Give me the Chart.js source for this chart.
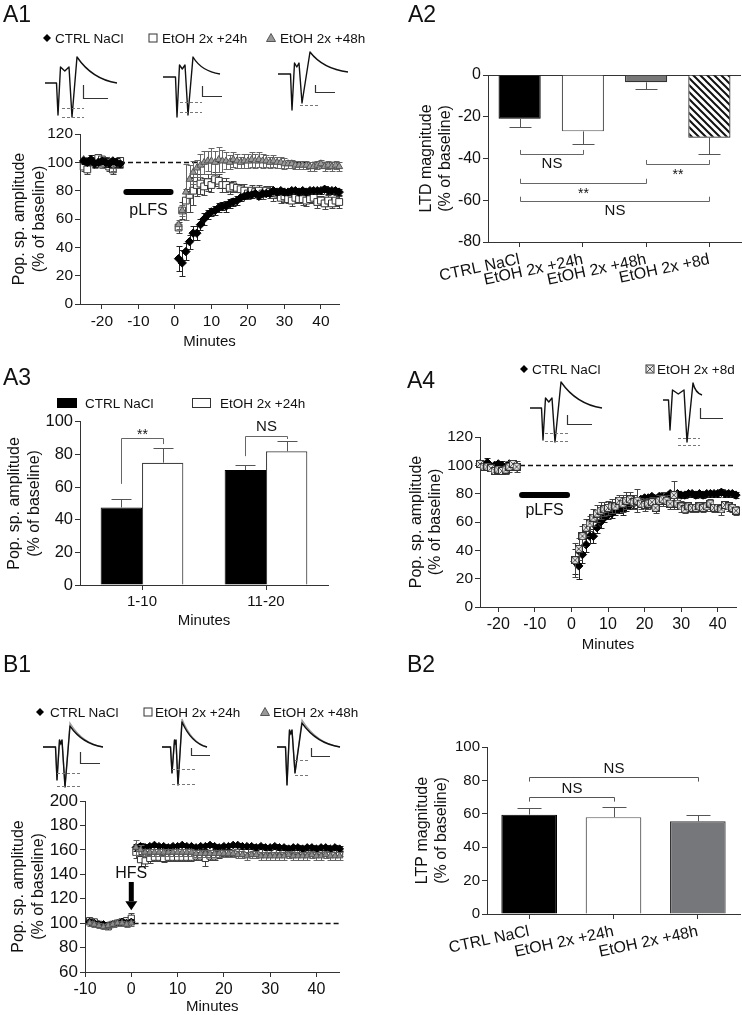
<!DOCTYPE html>
<html>
<head>
<meta charset="utf-8">
<title>LTD / LTP panels</title>
<script src="https://cdn.jsdelivr.net/npm/chart.js@4.4.1/dist/chart.umd.min.js"></script>
<style>
  html, body { margin: 0; padding: 0; background: #fff; }
  body { position: relative; width: 742px; height: 1015px; overflow: hidden; }
  canvas { position: absolute; }
  #deco { position: absolute; left: 0; top: 0; }
</style>
</head>
<body>
<canvas id="cA1" width="345" height="232" style="left:0;top:120px"></canvas>
<canvas id="cA2" width="372" height="240" style="left:370px;top:60px"></canvas>
<canvas id="cA3" width="345" height="225" style="left:0;top:410px"></canvas>
<canvas id="cA4" width="372" height="235" style="left:370px;top:420px"></canvas>
<canvas id="cB1" width="345" height="231" style="left:0;top:785px"></canvas>
<canvas id="cB2" width="372" height="270" style="left:370px;top:730px"></canvas>
<svg id="deco" width="742" height="1015"></svg>
<script>
// ---- data ----
const baseMin = [-25,-24,-23,-22,-21,-20,-19,-18,-17,-16,-15];
const postMin = [1,2,3,4,5,6,7,8,9,10,11,12,13,14,15,16,17,18,19,20,21,22,23,24,25,26,27,28,29,30,31,32,33,34,35,36,37,38,39,40,41,42,43,44,45];
const ltpBaseMin = [-9,-8,-7,-6,-5,-4,-3,-2,-1,0];
const lfsMinutes = baseMin.concat(postMin);
const hfsMinutes = ltpBaseMin.concat(postMin);

const ltdXTicks = [-20,-10,0,10,20,30,40];
const ltdYTicks = [0,20,40,60,80,100,120];
const ltpXTicks = [-10,0,10,20,30,40];
const ltpYTicks = [60,80,100,120,140,160,180,200];
const ltdMagTicks = [-80,-60,-40,-20,0];
const pctTicks = [0,20,40,60,80,100];

// A1 / A4 (pLFS)
const ctrlLtd = [101,100,102,99,100,101,100,99,101,100,99,
  32,29,37,44,50, 50,56,60,63,65, 66,68,69,69,71, 72,73,75,76,77, 77,78,76,78,78,
  78,80,79,80,79, 79,80,80,79,80, 79,80,80,80,80, 81,80,80,80,79];
const ctrlLtdErr = [2,2,3,2,2,2,3,2,2,3,2,
  9,9,6,5,5, 5,4,4,3,3, 3,3,3,4,3, 3,3,2,2,2, 2,2,2,2,2,
  2,2,2,2,2, 2,2,2,2,2, 2,2,2,2,2, 2,2,2,2,2];
const etoh24Ltd = [97,95,101,100,103,102,101,97,95,100,101,
  54,66,73,77,80, 84,85,83,86,84, 88,87,84,84,82, 83,82,81,80,78, 80,79,80,78,80,
  79,77,78,75,76, 74,73,75,74,74, 73,74,75,72,73, 71,73,71,73,72];
const etoh24LtdErr = [3,3,3,3,3,2,3,3,3,3,3,
  4,6,8,12,10, 8,7,6,6,5, 5,5,5,5,4, 4,3,4,5,4, 4,3,4,4,3,
  4,4,3,4,4, 3,4,4,3,4, 4,3,4,4,3, 4,4,3,4,4];
const etoh48Ltd = [102,100,101,99,100,98,100,101,97,98,98,
  56,66,79,88,93, 96,98,100,101,101, 100,102,101,101,100, 102,101,100,101,101, 102,101,102,101,101,
  100,101,100,100,99, 99,99,98,98,98, 98,97,97,98,99, 97,98,97,98,97];
const etoh48LtdErr = [2,2,2,3,2,2,2,2,3,2,2,
  3,4,20,10,8, 6,8,8,7,9, 8,9,8,6,5, 5,5,4,5,5, 5,5,5,5,4,
  4,4,4,4,4, 3,3,3,3,3, 3,3,3,3,3, 3,3,3,3,3];
const etoh8dLtd = [101,99,99,98,96,97,96,97,99,101,99,
  33,41,50,56,59, 63,66,68,69,70, 71,71,75,73,75, 76,74,75,73,72, 73,74,70,75,76,
  75,73,79,73,71, 69,71,70,70,71, 70,71,73,70,70, 69,72,71,70,68];
const etoh8dLtdErr = [2,2,2,2,2,2,2,3,4,3,4,
  12,8,7,6,5, 6,6,6,5,5, 5,5,4,6,6, 5,5,8,4,4, 4,4,4,4,5,
  4,4,10,4,4, 3,3,3,3,3, 3,3,3,3,3, 4,3,3,3,3];

// B1 (HFS)
const ctrlLtp = [101,100,99,99,98,99,100,101,100,101,
  162,163,162,163,164, 163,163,162,163,163, 164,163,163,162,163, 163,164,163,162,163, 163,164,164,163,163,
  163,162,163,162,162, 163,162,162,161,162, 162,161,162,162,161, 162,162,161,162,161];
const ctrlLtpErr = [2,2,2,2,2,2,2,2,2,2,
  3,3,3,2,2, 2,2,2,2,2, 2,2,2,2,2, 2,2,2,2,2, 2,2,2,2,2,
  2,2,2,2,2, 2,2,2,2,2, 2,2,2,2,2, 2,2,2,2,2];
const etoh24Ltp = [102,101,99,98,97,99,100,101,102,104,
  158,152,151,153,154, 154,153,154,154,154, 154,154,154,155,155, 153,155,155,156,157, 157,157,158,158,158,
  158,159,159,159,160, 159,160,159,159,160, 160,159,159,160,159, 159,159,158,158,158];
const etoh24LtpErr = [2,2,2,2,2,2,2,2,2,4,
  5,5,4,4,3, 3,3,3,3,3, 3,3,3,3,3, 6,3,3,3,3, 3,3,3,3,3,
  3,3,3,3,4, 3,3,3,3,3, 3,3,3,3,3, 3,3,3,3,3];
const etoh48Ltp = [100,99,98,97,98,99,100,100,99,100,
  162,160,158,158,158, 158,158,158,158,158, 158,158,158,157,157, 157,157,157,157,157, 157,157,156,156,155,
  156,156,155,155,155, 155,155,155,156,155, 155,155,155,156,155, 155,156,155,155,155];
const etoh48LtpErr = [2,2,2,2,2,2,2,2,2,2,
  6,4,3,3,3, 3,3,3,3,3, 3,3,3,3,3, 3,3,3,3,3, 3,3,3,3,3,
  3,3,3,3,3, 3,3,3,3,3, 3,3,3,3,3, 3,3,3,3,3];

// A2
const ltdGroups = ['CTRL NaCl', 'EtOH 2x +24h', 'EtOH 2x +48h', 'EtOH 2x +8d'];
const ltdMagnitude = [-21, -27, -3.5, -30];
const ltdMagnitudeErr = [4, 6, 3.2, 7.8];
const a2Brackets = [
  {a: [0, 0], b: [0, 1], y: -37.8, ya: -35.9, yb: -35.9, text: 'NS', ty: -42.6},
  {a: [0, 2], b: [0, 3], y: -42.6, ya: -40.7, yb: -40.7, text: '**', ty: -48.2},
  {a: [0, 0], b: [0, 2], y: -51.6, ya: -49.7, yb: -49.7, text: '**', ty: -57},
  {a: [0, 0], b: [0, 3], y: -60.2, ya: -58.3, yb: -58.3, text: 'NS', ty: -65}
];

// A3
const binLabels = ['1-10', '11-20'];
const ctrlBins = [47.5, 70.5];
const ctrlBinsErr = [5, 3];
const etoh24Bins = [75, 82];
const etoh24BinsErr = [9, 6];
const a3Brackets = [
  {a: [0, 0], b: [1, 0], y: 90, ya: 62, yb: 86.4, text: '**', ty: 92},
  {a: [0, 1], b: [1, 1], y: 91.3, ya: 79, yb: 89.5, text: 'NS', ty: 97}
];

// B2
const ltpGroups = ['CTRL NaCl', 'EtOH 2x +24h', 'EtOH 2x +48h'];
const ltpMagnitude = [59.5, 58, 55.5];
const ltpMagnitudeErr = [4, 6, 4];
const b2Brackets = [
  {a: [0, 0], b: [0, 1], y: 69.9, ya: 67.3, yb: 67.3, text: 'NS', ty: 74.7},
  {a: [0, 0], b: [0, 2], y: 81.9, ya: 79.3, yb: 79.3, text: 'NS', ty: 87}
];

// ---- setup ----
const FONT = "'Liberation Sans', Arial, sans-serif";
Chart.defaults.font.family = FONT;
Chart.defaults.color = '#111';
Chart.defaults.animation = false;
Chart.defaults.plugins.legend.display = false;
Chart.defaults.plugins.tooltip.enabled = false;
const AX = '#333';
const popTitle = ['Pop. sp. amplitude', '(% of baseline)'];

function xy(xs, ys) { return xs.map((x, i) => ({x: x, y: ys[i]})); }

function yScale(min, max, ticks, title, titlePad, width, size) {
  return {
    min: min, max: max,
    afterBuildTicks: s => { s.ticks = ticks.map(v => ({value: v})); },
    afterFit: s => { s.width = width; },
    border: {display: true, color: AX, width: 1},
    grid: {display: true, drawOnChartArea: false, drawTicks: true, tickLength: 5, color: AX},
    ticks: {font: {size: size}, padding: 2, color: '#111'},
    title: {display: true, text: title, color: '#111', font: {size: 16, lineHeight: 1.2}, padding: {top: titlePad, bottom: 0}}
  };
}
function xTime(min, max, ticks, height, titleBottom, size) {
  return {
    type: 'linear', min: min, max: max,
    afterBuildTicks: s => { s.ticks = ticks.map(v => ({value: v})); },
    afterFit: s => { s.height = height; },
    border: {display: true, color: AX, width: 1},
    grid: {display: true, drawOnChartArea: false, tickLength: 5, color: AX},
    ticks: {font: {size: size}, padding: 3, color: '#111', maxRotation: 0},
    title: {display: true, text: 'Minutes', color: '#111', font: {size: 15, lineHeight: 1.2}, padding: {top: 0, bottom: titleBottom}}
  };
}
function xCat(height, border, size, rot) {
  return {
    afterFit: s => { s.height = height; },
    border: {display: border, color: AX, width: 1},
    grid: {display: true, offset: false, drawOnChartArea: false, tickLength: 5, color: AX},
    ticks: {font: {size: size}, minRotation: rot, maxRotation: rot, autoSkip: false, padding: 3, color: '#111'}
  };
}

function drawErr(chart, idx) {
  const ds = chart.data.datasets[idx];
  if (!ds.errors) return;
  const meta = chart.getDatasetMeta(idx), ys = chart.scales.y, ctx = chart.ctx;
  ctx.save();
  ctx.strokeStyle = ds.errColor || '#444';
  ctx.lineWidth = 1;
  meta.data.forEach((p, i) => {
    const e = ds.errors[i];
    if (!e) return;
    const raw = ds.data[i];
    const v = typeof raw === 'object' ? raw.y : raw;
    const cap = ds.errCap || 3;
    const ends = ds.errAway ? [v + (v < 0 ? -e : e)] : [v - e, v + e];
    const p0 = ys.getPixelForValue(v);
    ends.forEach(ev => {
      const py = Math.round(ys.getPixelForValue(ev)) + 0.5;
      const px = Math.round(p.x) + 0.5;
      ctx.beginPath();
      ctx.moveTo(px, p0); ctx.lineTo(px, py);
      ctx.moveTo(px - cap, py); ctx.lineTo(px + cap, py);
      ctx.stroke();
    });
  });
  ctx.restore();
}
const errPlugin = {
  id: 'errs',
  beforeDatasetDraw(chart, args) { if (chart.config.type !== 'bar') drawErr(chart, args.index); },
  afterDatasetDraw(chart, args) { if (chart.config.type === 'bar') drawErr(chart, args.index); }
};

const marksPlugin = {
  id: 'marks',
  beforeDatasetsDraw(chart, args, o) {
    if (o.dashY == null) return;
    const ctx = chart.ctx, a = chart.chartArea, x = chart.scales.x, y = chart.scales.y;
    const py = Math.round(y.getPixelForValue(o.dashY)) + 0.5;
    const x0 = o.dashFrom != null ? x.getPixelForValue(o.dashFrom) : a.left;
    ctx.save();
    ctx.setLineDash([5, 3]);
    ctx.lineWidth = 1.6;
    ctx.strokeStyle = '#111';
    ctx.beginPath(); ctx.moveTo(x0, py); ctx.lineTo(a.right, py); ctx.stroke();
    ctx.restore();
  },
  afterDatasetsDraw(chart, args, o) {
    const ctx = chart.ctx, x = chart.scales.x, y = chart.scales.y;
    ctx.save();
    ctx.fillStyle = '#111';
    ctx.font = '16px ' + FONT;
    ctx.textAlign = 'center';
    ctx.textBaseline = 'middle';
    if (o.bar) {
      const b = o.bar, py = y.getPixelForValue(b.y);
      ctx.strokeStyle = '#000'; ctx.lineWidth = 6; ctx.lineCap = 'round';
      ctx.beginPath(); ctx.moveTo(x.getPixelForValue(b.from), py); ctx.lineTo(x.getPixelForValue(b.to), py); ctx.stroke();
      ctx.fillText(b.label, x.getPixelForValue((b.from + b.to) / 2), y.getPixelForValue(b.labelY));
    }
    if (o.arrow) {
      const a = o.arrow, ax = x.getPixelForValue(a.x);
      const top = y.getPixelForValue(a.from), neck = y.getPixelForValue(a.neck), tip = y.getPixelForValue(a.to);
      ctx.fillStyle = '#000';
      ctx.fillRect(ax - 2.5, top, 5, neck - top);
      ctx.beginPath(); ctx.moveTo(ax - 6, neck); ctx.lineTo(ax + 6, neck); ctx.lineTo(ax, tip); ctx.closePath(); ctx.fill();
      ctx.fillStyle = '#111';
      ctx.fillText(a.label, ax, y.getPixelForValue(a.labelY));
    }
    ctx.restore();
  }
};

const bracketPlugin = {
  id: 'brackets',
  afterDatasetsDraw(chart, args, o) {
    if (!o.items) return;
    const ctx = chart.ctx, y = chart.scales.y;
    ctx.save();
    o.items.forEach(b => {
      const xa = Math.round(chart.getDatasetMeta(b.a[0]).data[b.a[1]].x) + 0.5;
      const xb = Math.round(chart.getDatasetMeta(b.b[0]).data[b.b[1]].x) + 0.5;
      const yl = Math.round(y.getPixelForValue(b.y)) + 0.5;
      ctx.strokeStyle = o.color || '#666';
      ctx.lineWidth = 1;
      ctx.beginPath();
      ctx.moveTo(xa, y.getPixelForValue(b.ya)); ctx.lineTo(xa, yl); ctx.lineTo(xb, yl); ctx.lineTo(xb, y.getPixelForValue(b.yb));
      ctx.stroke();
      ctx.fillStyle = '#111';
      ctx.font = (b.text === '**' ? '14px ' : '15px ') + FONT;
      ctx.textAlign = 'center';
      ctx.textBaseline = 'middle';
      ctx.fillText(b.text, (xa + xb) / 2, y.getPixelForValue(b.ty));
    });
    ctx.restore();
  }
};

function hatch() {
  const c = document.createElement('canvas');
  c.width = 7; c.height = 7;
  const g = c.getContext('2d');
  g.fillStyle = '#fff'; g.fillRect(0, 0, 7, 7);
  g.strokeStyle = '#111'; g.lineWidth = 2;
  g.beginPath();
  g.moveTo(-2, -2); g.lineTo(9, 9);
  g.moveTo(-2, 5); g.lineTo(2, 9);
  g.moveTo(5, -2); g.lineTo(9, 2);
  g.stroke();
  return g.createPattern(c, 'repeat');
}
function boxCross() {
  const c = document.createElement('canvas');
  c.width = 8; c.height = 8;
  const g = c.getContext('2d');
  g.fillStyle = '#e6e6e6'; g.fillRect(0, 0, 8, 8);
  g.strokeStyle = '#333'; g.lineWidth = 1;
  g.strokeRect(0.5, 0.5, 7, 7);
  g.strokeStyle = '#555';
  g.beginPath(); g.moveTo(1, 1); g.lineTo(7, 7); g.moveTo(7, 1); g.lineTo(1, 7); g.stroke();
  return c;
}

// ---- A1 ----
new Chart(document.getElementById('cA1'), {
  type: 'scatter',
  data: {datasets: [
    {label: 'CTRL NaCl', data: xy(lfsMinutes, ctrlLtd), errors: ctrlLtdErr, errColor: '#222', pointStyle: 'rectRot', pointRadius: 4.2, backgroundColor: '#000', borderColor: '#000', borderWidth: 1, order: 0, clip: false},
    {label: 'EtOH 2x +48h', data: xy(lfsMinutes, etoh48Ltd), errors: etoh48LtdErr, errColor: '#666', pointStyle: 'triangle', pointRadius: 4, backgroundColor: '#9a9a9a', borderColor: '#555', borderWidth: 1, order: 1, clip: false},
    {label: 'EtOH 2x +24h', data: xy(lfsMinutes, etoh24Ltd), errors: etoh24LtdErr, errColor: '#444', pointStyle: 'rect', pointRadius: 4.8, backgroundColor: '#fff', borderColor: '#333', borderWidth: 1, order: 2, clip: false}
  ]},
  options: {
    responsive: false,
    layout: {padding: {top: 14, right: 4, left: 0, bottom: 0}},
    scales: {x: xTime(-26, 45, ltdXTicks, 48, 1, 15.5), y: yScale(0, 120, ltdYTicks, popTitle, 10.4, 80, 15.5)},
    plugins: {marks: {dashY: 100, bar: {from: -13.3, to: -1.2, y: 79, label: 'pLFS', labelY: 66}}}
  },
  plugins: [errPlugin, marksPlugin]
});

// ---- A2 ----
new Chart(document.getElementById('cA2'), {
  type: 'bar',
  data: {labels: ltdGroups, datasets: [{
    data: ltdMagnitude, errors: ltdMagnitudeErr, errAway: true, errCap: 11, errColor: '#555',
    backgroundColor: ['#000', '#fff', '#777', hatch()],
    borderColor: ['#000', '#555', '#333', '#222'], borderWidth: 1.2,
    barPercentage: 0.667, categoryPercentage: 1
  }]},
  options: {
    responsive: false,
    layout: {padding: {top: 15, right: 1, left: 0, bottom: 0}},
    scales: {
      x: xCat(58, true, 16, 12),
      y: Object.assign(yScale(-80, 0, ltdMagTicks, ['LTD magnitude', '(% of baseline)'], 47.1, 118, 16), {
        grid: {display: true, drawOnChartArea: true, drawTicks: true, tickLength: 5, tickColor: AX,
          color: c => (c.tick && c.tick.value === 0) ? AX : 'rgba(0,0,0,0)'}
      })
    },
    plugins: {brackets: {items: a2Brackets, color: '#666'}}
  },
  plugins: [errPlugin, bracketPlugin]
});

// ---- A3 ----
new Chart(document.getElementById('cA3'), {
  type: 'bar',
  data: {labels: binLabels, datasets: [
    {label: 'CTRL NaCl', data: ctrlBins, errors: ctrlBinsErr, errAway: true, errCap: 10, errColor: '#555',
      backgroundColor: '#000', borderColor: '#000', borderWidth: 1, barPercentage: 1, categoryPercentage: 0.667},
    {label: 'EtOH 2x +24h', data: etoh24Bins, errors: etoh24BinsErr, errAway: true, errCap: 10, errColor: '#555',
      backgroundColor: '#fff', borderColor: '#444', borderWidth: 1.2, barPercentage: 1, categoryPercentage: 0.667}
  ]},
  options: {
    responsive: false,
    layout: {padding: {top: 10.7, right: 17, left: 0, bottom: 0}},
    scales: {
      x: Object.assign(xCat(50, true, 15, 0), {title: {display: true, text: 'Minutes', color: '#111', font: {size: 15, lineHeight: 1.2}, padding: {top: 0, bottom: 5}}}),
      y: yScale(0, 100, pctTicks, popTitle, 5.4, 80, 16.5)
    },
    plugins: {brackets: {items: a3Brackets, color: '#666'}}
  },
  plugins: [errPlugin, bracketPlugin]
});

// ---- A4 ----
new Chart(document.getElementById('cA4'), {
  type: 'scatter',
  data: {datasets: [
    {label: 'EtOH 2x +8d', data: xy(lfsMinutes, etoh8dLtd), errors: etoh8dLtdErr, errColor: '#444', pointStyle: boxCross(), pointRadius: 4, order: 0, clip: false},
    {label: 'CTRL NaCl', data: xy(lfsMinutes, ctrlLtd), errors: ctrlLtdErr, errColor: '#222', pointStyle: 'rectRot', pointRadius: 4.2, backgroundColor: '#000', borderColor: '#000', borderWidth: 1, order: 1, clip: false}
  ]},
  options: {
    responsive: false,
    layout: {padding: {top: 17, right: 6, left: 0, bottom: 0}},
    scales: {x: xTime(-25, 45, ltdXTicks, 48, 1, 16), y: yScale(0, 120, ltdYTicks, popTitle, 37.1, 110, 15.5)},
    plugins: {marks: {dashY: 100, bar: {from: -13.5, to: -1.2, y: 79, label: 'pLFS', labelY: 68}}}
  },
  plugins: [errPlugin, marksPlugin]
});

// ---- B1 ----
new Chart(document.getElementById('cB1'), {
  type: 'scatter',
  data: {datasets: [
    {label: 'EtOH 2x +48h', data: xy(hfsMinutes, etoh48Ltp), errors: etoh48LtpErr, errColor: '#666', pointStyle: 'triangle', pointRadius: 3.8, backgroundColor: '#8c8c8c', borderColor: '#555', borderWidth: 1, order: 0, clip: false},
    {label: 'CTRL NaCl', data: xy(hfsMinutes, ctrlLtp), errors: ctrlLtpErr, errColor: '#222', pointStyle: 'rectRot', pointRadius: 3.8, backgroundColor: '#000', borderColor: '#000', borderWidth: 1, order: 1, clip: false},
    {label: 'EtOH 2x +24h', data: xy(hfsMinutes, etoh24Ltp), errors: etoh24LtpErr, errColor: '#444', pointStyle: 'rect', pointRadius: 4.4, backgroundColor: '#fff', borderColor: '#333', borderWidth: 1, order: 2, clip: false}
  ]},
  options: {
    responsive: false,
    layout: {padding: {top: 16, right: 3, left: 0, bottom: 0}},
    scales: {x: xTime(-10, 45, ltpXTicks, 44, 0, 16), y: yScale(60, 200, ltpYTicks, popTitle, 9.4, 85, 17)},
    plugins: {marks: {dashY: 100, dashFrom: 0.5, arrow: {x: 0, from: 133.7, neck: 118, to: 110.5, label: 'HFS', labelY: 140.5}}}
  },
  plugins: [errPlugin, marksPlugin]
});

// ---- B2 ----
new Chart(document.getElementById('cB2'), {
  type: 'bar',
  data: {labels: ltpGroups, datasets: [{
    data: ltpMagnitude, errors: ltpMagnitudeErr, errAway: true, errCap: 12, errColor: '#555',
    backgroundColor: ['#000', '#fff', '#76777b'],
    borderColor: ['#000', '#555', '#333'], borderWidth: 1.2,
    barPercentage: 0.66, categoryPercentage: 1
  }]},
  options: {
    responsive: false,
    layout: {padding: {top: 17, right: 2, left: 0, bottom: 0}},
    scales: {
      x: xCat(86, true, 16, 12),
      y: yScale(0, 100, pctTicks, ['LTP magnitude', '(% of baseline)'], 43.1, 117, 15)
    },
    plugins: {brackets: {items: b2Brackets, color: '#555'}}
  },
  plugins: [errPlugin, bracketPlugin]
});

// ---- decorations: panel letters, legends, example traces ----
const svg = document.getElementById('deco');
const SVGNS = 'http://www.w3.org/2000/svg';
function el(tag, attrs, text) {
  const e = document.createElementNS(SVGNS, tag);
  for (const k in attrs) e.setAttribute(k, attrs[k]);
  if (text) e.textContent = text;
  svg.appendChild(e);
  return e;
}
function txt(x, y, s, size) {
  return el('text', {x: x, y: y, 'font-size': size, 'font-family': FONT, fill: '#111'}, s);
}
function diamond(cx, cy, r) {
  el('polygon', {points: `${cx},${cy - r} ${cx + r},${cy} ${cx},${cy + r} ${cx - r},${cy}`, fill: '#000'});
}
function square(cx, cy, s, fill) {
  el('rect', {x: cx - s / 2, y: cy - s / 2, width: s, height: s, fill: fill, stroke: '#333', 'stroke-width': 1});
}
function triangle(cx, cy, r) {
  el('polygon', {points: `${cx},${cy - r} ${cx + r * 0.9},${cy + r * 0.6} ${cx - r * 0.9},${cy + r * 0.6}`, fill: '#999', stroke: '#555', 'stroke-width': 1});
}

[['A1', 3, 22], ['A2', 408, 22], ['A3', 3, 385], ['A4', 407, 388], ['B1', 3, 672], ['B2', 407, 672]]
  .forEach(p => txt(p[1], p[2], p[0], 23));

// A1 legend
diamond(47, 38, 4); txt(55, 43, 'CTRL NaCl', 13.5);
square(153, 38, 8, '#fff'); txt(162, 43, 'EtOH 2x +24h', 13.5);
triangle(271, 38.5, 5); txt(280, 43, 'EtOH 2x +48h', 13.5);
// A4 legend
diamond(524, 369, 4); txt(532, 374, 'CTRL NaCl', 13.5);
square(650, 369, 8, '#e6e6e6');
el('path', {d: 'M646.5,365.5 L653.5,372.5 M653.5,365.5 L646.5,372.5', stroke: '#555', 'stroke-width': 1});
txt(657, 374, 'EtOH 2x +8d', 13.5);
// B1 legend
diamond(40, 712, 4); txt(50, 717, 'CTRL NaCl', 13.5);
square(148, 712, 8, '#fff'); txt(155, 717, 'EtOH 2x +24h', 13.5);
triangle(265, 712.5, 5); txt(273, 717, 'EtOH 2x +48h', 13.5);
// A3 legend
el('rect', {x: 57, y: 398, width: 20, height: 10, fill: '#000'}); txt(85, 408, 'CTRL NaCl', 13.5);
el('rect', {x: 192.5, y: 398.5, width: 18, height: 9, fill: '#fff', stroke: '#333', 'stroke-width': 1}); txt(220, 408, 'EtOH 2x +24h', 13.5);

// example field-potential traces (illustration only)
// x0, y0, s1, d1, b, s2, d2, gap, pk, w, end, overlay
const traces = [
  [45, 83, 13, 32, 16, 27, 34, 5, 26, 40, 0, false],
  [163, 77, 14, 40, 12, 25, 38, 5, 20, 27, 3, false],
  [278, 74, 14, 36, 11, 24, 29, 8, 22, 38, 2, false],
  [530, 408, 13, 32, 10, 25, 34, 6, 26, 41, 0, false],
  [663, 400, 7, 30, 10, 24, 42, 6, 17, 9, 5, false],
  [43, 747, 14, 33, 7, 22, 40, 5, 21, 33, 0, true],
  [162, 747, 10, 26, 7, 16, 38, 4, 25, 25, 0, true],
  [277, 747, 10, 38, 17, 18, 26, 7, 24, 38, 0, true]
];
function tracePath(t, extra) {
  const [x0, y0, s1, d1, b, s2, d2, gap, pk0, w, end] = t;
  const pk = pk0 + extra;
  const P = (x, y) => (x0 + x).toFixed(1) + ',' + (y0 + y).toFixed(1);
  const px = s2 + gap;
  const n1 = s1 + 2.5, n2 = Math.max(s1 + 4, s2 - 3);
  return 'M' + P(0, 0) + ' L' + P(s1 - 1.5, 0) + ' L' + P(s1, d1) + ' L' + P(n1, -b) + ' L' + P((n1 + n2) / 2, -b + 4) +
    ' L' + P(n2, -b) + ' L' + P(s2, d2) + ' L' + P(px, -pk) +
    ' C' + P(px + w * 0.2, -pk * 0.55) + ' ' + P(px + w * 0.5, -end - (pk - end) * 0.12) + ' ' + P(px + w, -end);
}
traces.forEach(t => {
  if (t[11]) el('path', {d: tracePath(t, 3), fill: 'none', stroke: '#999', 'stroke-width': 1.3});
  el('path', {d: tracePath(t, 0), fill: 'none', stroke: '#111', 'stroke-width': 1.4, 'stroke-linejoin': 'round'});
});
const scaleBars = [[83, 85, 98, 108], [202, 86, 96, 222], [315, 85, 92, 335], [567, 415, 424, 592],
  [700, 408, 418, 723], [80, 752, 763, 100], [191, 748, 755, 210], [311, 748, 756, 330]];
scaleBars.forEach(s => el('path', {d: `M${s[0] + 0.5},${s[1]} L${s[0] + 0.5},${s[2] + 0.5} L${s[3]},${s[2] + 0.5}`, fill: 'none', stroke: '#333', 'stroke-width': 1.2}));
const refLines = [[62, 84, 108], [62, 84, 117], [180, 202, 102], [180, 202, 112], [300, 320, 105],
  [545, 570, 433], [545, 570, 441], [678, 700, 438], [678, 700, 445],
  [57, 80, 773], [57, 80, 786], [172, 195, 769], [172, 195, 784], [295, 310, 760], [295, 310, 775]];
refLines.forEach(r => el('line', {x1: r[0], x2: r[1], y1: r[2] + 0.5, y2: r[2] + 0.5, stroke: '#777', 'stroke-width': 1, 'stroke-dasharray': '3,2'}));
</script>
</body>
</html>
